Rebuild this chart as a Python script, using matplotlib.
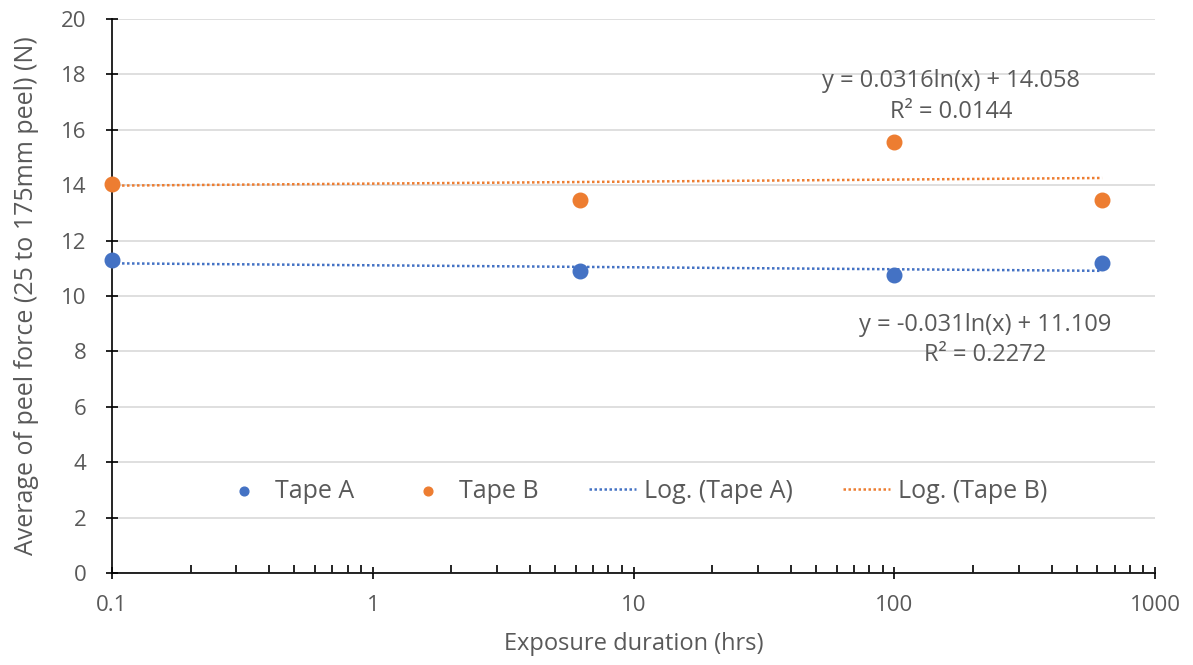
import numpy as np
import matplotlib.pyplot as plt
from matplotlib.ticker import LogLocator, FixedLocator, NullFormatter

plt.rcParams['font.family'] = ['Open Sans', 'DejaVu Sans']

# Data
hours = [0.1, 6.25, 100, 625]
tape_a = [11.3, 10.9, 10.76, 11.19]
tape_b = [14.04, 13.47, 15.56, 13.47]

# Trendline coefficients as displayed on the chart (y = a ln(x) + b)
fit_a = (-0.031, 11.109)
fit_b = (0.0316, 14.058)
r2_a = 0.2272
r2_b = 0.0144

blue = '#4472C4'
orange = '#ED7D31'
grey = '#595959'

fig = plt.figure(figsize=(11.93, 6.65), dpi=100)
ax = fig.add_axes([0.0939, 0.1383, 0.8745, 0.8331])

xs = np.geomspace(min(hours), max(hours), 400)
ax.plot(xs, fit_a[0] * np.log(xs) + fit_a[1], color=blue, lw=1.8, ls=(0, (1, 1)),
        label='Log. (Tape A)', zorder=2)
ax.plot(xs, fit_b[0] * np.log(xs) + fit_b[1], color=orange, lw=1.8, ls=(0, (1, 1)),
        label='Log. (Tape B)', zorder=2)
ax.scatter(hours, tape_a, s=110, color=blue, label='Tape A', zorder=3, clip_on=False)
ax.scatter(hours, tape_b, s=110, color=orange, label='Tape B', zorder=3, clip_on=False)

ax.set_xscale('log')
ax.set_xlim(0.1, 1000)
ax.set_ylim(0, 20)
ax.set_yticks(np.arange(0, 21, 2))
ax.xaxis.set_major_locator(FixedLocator([0.1, 1, 10, 100, 1000]))
ax.set_xticklabels(['0.1', '1', '10', '100', '1000'])
ax.xaxis.set_minor_locator(LogLocator(base=10, subs=np.arange(2, 10)))
ax.xaxis.set_minor_formatter(NullFormatter())

ax.grid(axis='y', color='#D9D9D9', lw=1.2, zorder=0)
ax.set_axisbelow(True)
for s in ['top', 'right']:
    ax.spines[s].set_visible(False)
for s in ['left', 'bottom']:
    ax.spines[s].set_color('black')
    ax.spines[s].set_linewidth(1.2)

ax.tick_params(axis='both', which='major', direction='inout', length=9, width=1.2,
               color='black', labelsize=16, labelcolor=grey)
ax.tick_params(axis='x', which='minor', direction='in', length=6, width=1.2, color='black')
ax.tick_params(axis='x', which='major', pad=11)
ax.tick_params(axis='y', which='major', pad=14)

ax.set_xlabel('Exposure duration (hrs)', fontsize=17, color=grey, labelpad=12)
ax.set_ylabel('Average of peel force (25 to 175mm peel) (N)', fontsize=18, color=grey, labelpad=16)

ax.text(165, 17.2, f'y = {fit_b[0]}ln(x) + {fit_b[1]:.3f}\nR² = {r2_b}', ha='center',
        va='center', fontsize=17, color=grey, linespacing=1.35)
ax.text(222, 8.41, f'y = {fit_a[0]}ln(x) + {fit_a[1]:.3f}\nR² = {r2_a}', ha='center',
        va='center', fontsize=17, color=grey, linespacing=1.35)

handles, labels = ax.get_legend_handles_labels()
order = [2, 3, 0, 1]
ax.legend([handles[i] for i in order], [labels[i] for i in order], ncol=4,
          loc='center', bbox_to_anchor=(0.5, 0.148), frameon=False, fontsize=18,
          labelcolor=grey, columnspacing=2.0, handlelength=1.9, handletextpad=0.3,
          markerscale=0.6)

fig.savefig('out.png', dpi=100)
